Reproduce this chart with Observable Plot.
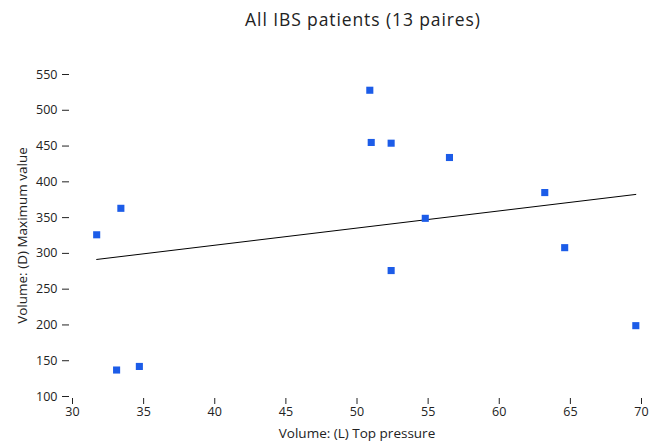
<!DOCTYPE html>
<html><head><meta charset="utf-8">
<script src="https://cdn.jsdelivr.net/npm/d3@7"></script>
<script src="https://cdn.jsdelivr.net/npm/@observablehq/plot@0.6"></script>
<style>body{margin:0;background:#fff;}</style>
</head><body><div id="chart"></div>
<script>
const title = "All IBS patients (13 paires)";
const xLabel = "Volume: (L) Top pressure";
const yLabel = "Volume: (D) Maximum value";
const topPressure = [31.7, 33.4, 33.1, 34.7, 50.9, 51.0, 52.4, 52.4, 54.8, 56.5, 63.2, 64.6, 69.6];
const maximumValue = [326, 363, 137, 142, 528, 455, 454, 276, 349, 434, 385, 308, 199];
const xTicks = [30, 35, 40, 45, 50, 55, 60, 65, 70];
const yTicks = [100, 150, 200, 250, 300, 350, 400, 450, 500, 550];
const data = topPressure.map((x, i) => ({x, y: maximumValue[i]}));

const chart = Plot.plot({
  width: 659, height: 446,
  marginLeft: 72, marginRight: 18, marginTop: 74, marginBottom: 50,
  style: {fontFamily: "'Open Sans', sans-serif", fontSize: "12px", color: "#222", background: "#fff"},
  x: {domain: [30, 70]},
  y: {domain: [100, 550]},
  marks: [
    Plot.axisY({ticks: yTicks, tickSize: 7, dx: -3, tickPadding: 5, label: null, fontSize: 12.5}),
    Plot.axisX({ticks: xTicks, tickSize: 6, dy: 2, tickPadding: 3, label: null, fontSize: 12.5}),
    Plot.linearRegressionY(data, {x: "x", y: "y", stroke: "#000", strokeWidth: 1, ci: 0}),
    Plot.dot(data, {x: "x", y: "y", symbol: "square", r: 4, fill: "#1c5ce8", stroke: "none"}),
    Plot.text([title], {frameAnchor: "top", lineAnchor: "middle", dy: -54, dx: 6, fontSize: 17.5, fill: "#222"}),
    Plot.text([xLabel], {frameAnchor: "bottom", lineAnchor: "middle", dy: 37, dx: 0, fontSize: 13.5, fill: "#222"}),
    Plot.text([yLabel], {frameAnchor: "left", textAnchor: "middle", lineAnchor: "middle", rotate: -90, dx: -50, fontSize: 13.5, fill: "#222"})
  ]
});
d3.select(chart).selectAll("text").filter(function() { return this.textContent === title; }).style("letter-spacing", "0.9px");
document.getElementById("chart").append(chart);
</script>
</body></html>
